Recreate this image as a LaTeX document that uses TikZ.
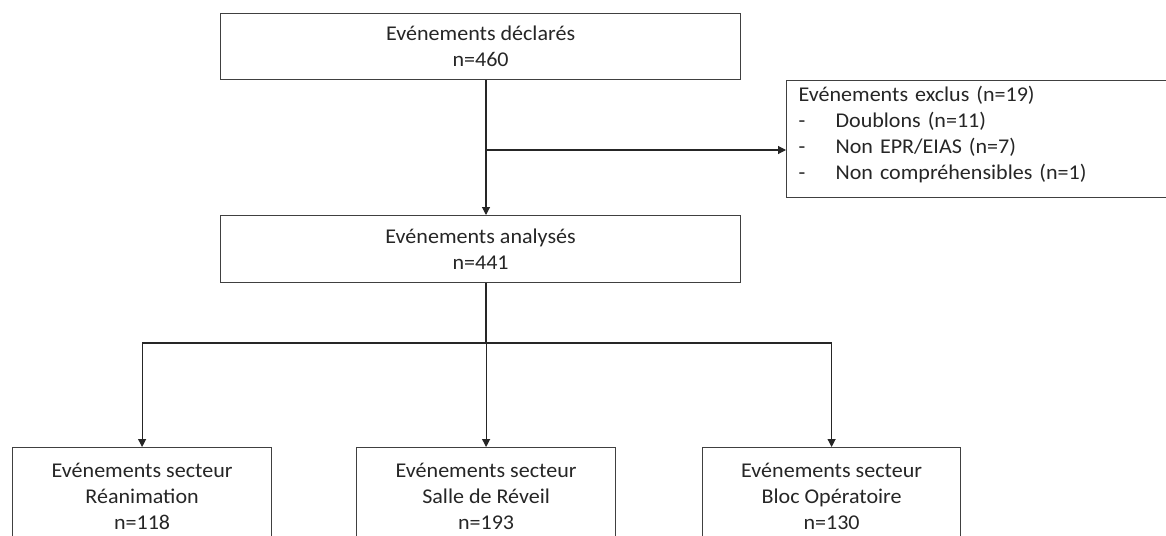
\documentclass[tikz,border=0pt]{standalone}
\usepackage{fontspec}
\setmainfont{Carlito}[FakeStretch=1.05]
\usetikzlibrary{arrows.meta}
\begin{document}
\begin{tikzpicture}[x=1pt,y=-1pt,
  box/.style={draw=black!75, line width=1.2pt, rectangle, inner sep=0pt,
    align=center, text=black!85, font=\fontsize{21}{26}\selectfont},
  link/.style={draw=black!85, line width=1.1pt},
  arr/.style={link, -{Triangle[length=8pt,width=8pt]}}]
\clip (0,0) rectangle (1166,535);
\fill[white] (0,0) rectangle (1166,535);
\node[box, anchor=north west, minimum width=520pt, minimum height=66pt] (decl) at (220,13) {Evénements déclarés\\n=460};
\node[box, anchor=north west, minimum width=520pt, minimum height=67pt] (anal) at (220,215) {Evénements analysés\\n=441};
\node[box, anchor=north west, align=left, text width=368pt, inner xsep=12pt, minimum height=117pt] (excl) at (786,80)
  {\raisebox{4pt}[\height][\depth]{\begin{tabular}{@{}l@{}}
   Evénements exclus (n=19)\\
   \makebox[37pt][l]{-}Doublons (n=11)\\
   \makebox[37pt][l]{-}Non EPR/EIAS (n=7)\\
   \makebox[37pt][l]{-}Non compréhensibles (n=1)
   \end{tabular}}};
\node[box, anchor=north west, minimum width=259pt, minimum height=98pt] (rea) at (12,447) {Evénements secteur\\Réanimation\\n=118};
\node[box, anchor=north west, minimum width=259pt, minimum height=98pt] (rev) at (356,447) {Evénements secteur\\Salle de Réveil\\n=193};
\node[box, anchor=north west, minimum width=258pt, minimum height=98pt] (bloc) at (702,447) {Evénements secteur\\Bloc Opératoire\\n=130};
\coordinate (split) at (486,150);
\coordinate (hb) at (486,343);
\draw[arr] (decl.south -| split) -- (anal.north -| split);
\draw[arr] (split) -- (split -| excl.west);
\draw[link] (anal.south -| hb) -- (hb);
\draw[link] (rea.north |- hb) -- (bloc.north |- hb);
\draw[arr] (rea.north |- hb) -- (rea.north);
\draw[arr] (rev.north |- hb) -- (rev.north);
\draw[arr] (bloc.north |- hb) -- (bloc.north);
\end{tikzpicture}
\end{document}
